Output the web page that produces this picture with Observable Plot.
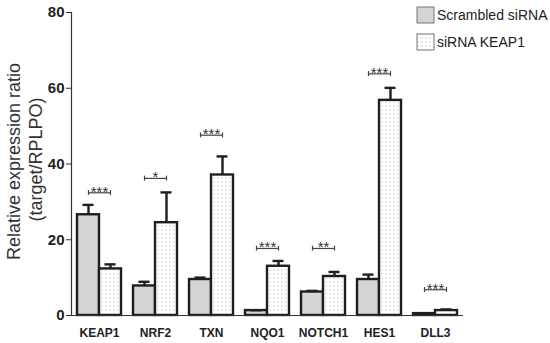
<!DOCTYPE html>
<html><head><meta charset="utf-8">
<script src="https://cdn.jsdelivr.net/npm/d3@7"></script>
<script src="https://cdn.jsdelivr.net/npm/@observablehq/plot@0.6"></script>
<style>body{margin:0;background:#fff} #chart{width:550px;height:343px}</style>
</head><body><div id="chart"></div>
<script>
const genes = ["KEAP1", "NRF2", "TXN", "NQO1", "NOTCH1", "HES1", "DLL3"];
const groups = ["Scrambled siRNA", "siRNA KEAP1"];
const scrambledMean = [26.6, 7.8, 9.5, 1.3, 6.2, 9.5, 0.5];
const scrambledErr = [2.6, 1.1, 0.5, 0.1, 0.3, 1.3, 0.1];
const knockdownMean = [12.3, 24.5, 37.1, 13.0, 10.3, 56.8, 1.3];
const knockdownErr = [1.2, 8.0, 4.9, 1.4, 1.2, 3.3, 0.3];
const bracketHeight = [32.4, 36.2, 47.6, 17.7, 17.7, 63.8, 6.8];
const significance = ["***", "*", "***", "***", "**", "***", "***"];
const yTicks = [0, 20, 40, 60, 80];
const yTitle = ["Relative expression ratio", "(target/RPLPO)"];

const rows = [];
genes.forEach((g, i) => {
  rows.push({gene: g, group: groups[0], value: scrambledMean[i], err: scrambledErr[i]});
  rows.push({gene: g, group: groups[1], value: knockdownMean[i], err: knockdownErr[i]});
});
const brackets = genes.map((g, i) => ({gene: g, h: bracketHeight[i], label: significance[i]}));
const ends = brackets.flatMap(b => groups.map(gr => ({gene: b.gene, group: gr, h: b.h})));

const ink = "#1e1e1e";
const font = "'Liberation Sans', Arial, sans-serif";
const plot = Plot.plot({
  width: 550, height: 343,
  marginLeft: 71, marginRight: 87, marginTop: 12, marginBottom: 28,
  style: {fontFamily: font, background: "#fff", color: "#222"},
  fx: {domain: genes, paddingInner: 0, paddingOuter: 0, label: null},
  x: {domain: groups, paddingInner: 0, paddingOuter: 0.2727, axis: null},
  y: {domain: [0, 80]},
  color: {domain: groups, range: ["#d4d4d4", "url(#dots)"]},
  marks: [
    Plot.barY(rows, {fx: "gene", x: "group", y: "value", fill: "group", stroke: ink, strokeWidth: 2.4}),
    Plot.ruleX(rows, {fx: "gene", x: "group", y1: "value", y2: d => d.value + d.err, stroke: ink, strokeWidth: 2.4}),
    Plot.tickY(rows, {fx: "gene", x: "group", y: d => d.value + d.err, stroke: ink, strokeWidth: 2.4, insetLeft: 5.5, insetRight: 5.5}),
    Plot.link(brackets, {fx: "gene", x1: () => groups[0], x2: () => groups[1], y1: "h", y2: "h", stroke: "#444", strokeWidth: 1.2}),
    Plot.ruleX(ends, {fx: "gene", x: "group", y1: d => d.h - 0.7, y2: d => d.h + 0.6, stroke: "#444", strokeWidth: 1.2}),
    Plot.text(brackets, {fx: "gene", y: "h", text: "label", fontSize: 15, dy: -1, fill: "#333"}),
    Plot.ruleY([0], {stroke: "#333", strokeWidth: 1.2}),
    Plot.frame({anchor: "left", facetAnchor: "left", stroke: "#333", strokeWidth: 1.2}),
    Plot.axisY({ticks: yTicks, tickSize: 5, tickPadding: 2, fontSize: 15, fontWeight: "bold", label: null, stroke: "#333"}),
    Plot.axisFx({anchor: "bottom", tickSize: 0, tickPadding: 13, fontSize: 12, fontWeight: "bold", label: null})
  ]
});

const svg = d3.select(plot);
const defs = svg.insert("defs", ":first-child");
const pat = defs.append("pattern").attr("id", "dots").attr("patternUnits", "userSpaceOnUse")
  .attr("width", 4).attr("height", 4);
pat.append("rect").attr("width", 4).attr("height", 4).attr("fill", "#fff");
pat.append("circle").attr("cx", 2).attr("cy", 2).attr("r", 0.6).attr("fill", "#9a9a9a");

// y title
const yScale = plot.scale("y");
const midY = (yScale.range[0] + yScale.range[1]) / 2;
const tg = svg.append("g").attr("fill", "#333").attr("text-anchor", "middle")
  .style("font-size", "18px").style("font-family", font);
tg.append("text").attr("transform", `translate(20,${midY - 2}) rotate(-90)`).text(yTitle[0]);
tg.append("text").attr("transform", `translate(42,${midY - 4}) rotate(-90)`).text(yTitle[1]);

// legend
const lg = svg.append("g").attr("fill", "#222").attr("text-anchor", "start")
  .style("font-size", "14px").style("font-family", font);
const legendFill = ["#d4d4d4", "url(#dots)"];
groups.forEach((g, i) => {
  const y0 = 7 + i * 27;
  lg.append("rect").attr("x", 417).attr("y", y0).attr("width", 17).attr("height", 16)
    .attr("fill", legendFill[i]).attr("stroke", "#777").attr("stroke-width", 1);
  lg.append("text").attr("x", 437).attr("y", y0 + 13).text(g);
});

document.getElementById("chart").appendChild(plot);
</script>
</body></html>
